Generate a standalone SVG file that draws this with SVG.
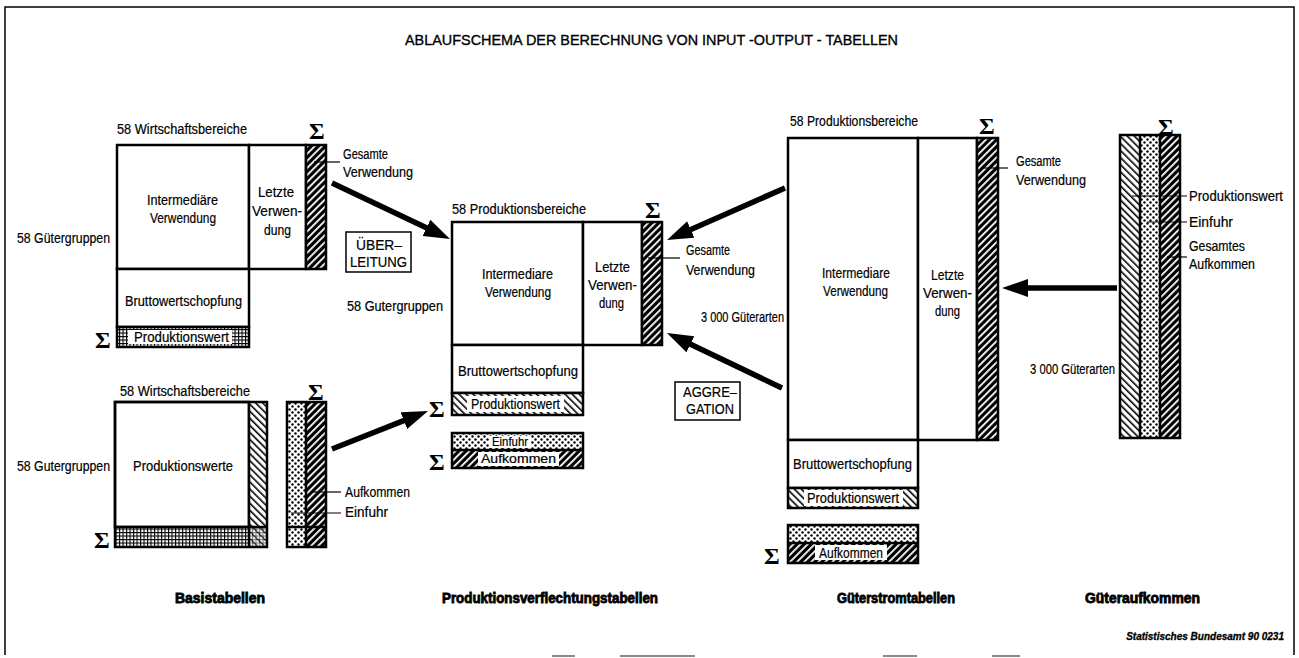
<svg xmlns="http://www.w3.org/2000/svg" width="1299" height="658" viewBox="0 0 1299 658">
<defs>
<style>
text{font-family:"Liberation Sans",Arial,sans-serif;font-size:14px;fill:#000;stroke:#000;stroke-width:0.2}
.s{font-family:"Liberation Serif",serif;font-size:24px;font-weight:bold;stroke:none}
.b{fill:#fff;stroke:#000;stroke-width:2.5}
.o{fill:none;stroke:#000;stroke-width:2.5}
.h{stroke:#000;stroke-width:2.5}
.l{stroke:#000;stroke-width:1.2}
.a{stroke:#000;stroke-width:5.5;marker-end:url(#ah)}
.w{fill:#fff}
.sm{font-size:12.5px}
.bl{font-weight:bold;font-size:14px;stroke-width:0.8}
.fr{stroke:#000;stroke-width:1.5;fill:none}
.bx{fill:#fff;stroke:#000;stroke-width:1.5}
.it{font-style:italic;font-weight:bold;font-size:10px;stroke-width:0.3}
.tt{font-size:15px;stroke-width:0.35}
</style>
<pattern id="pFwd" patternUnits="userSpaceOnUse" width="5" height="5" patternTransform="rotate(45)">
<rect width="5" height="5" fill="#000"/><rect width="1.8" height="5" fill="#fff"/>
</pattern>
<pattern id="pBack" patternUnits="userSpaceOnUse" width="5" height="5" patternTransform="rotate(-45)">
<rect width="5" height="5" fill="#fff"/><rect width="1.6" height="5" fill="#000"/>
</pattern>
<pattern id="pDot" patternUnits="userSpaceOnUse" width="6" height="6">
<rect width="6" height="6" fill="#fff"/><circle cx="1.5" cy="1.5" r="1.2"/><circle cx="4.5" cy="4.5" r="1.2"/>
</pattern>
<pattern id="pGrid" patternUnits="userSpaceOnUse" width="3.5" height="3.5">
<rect width="3.5" height="3.5" fill="#000"/><rect x="1.1" y="1.1" width="2.4" height="2.4" fill="#fff"/>
</pattern>
<marker id="ah" markerUnits="userSpaceOnUse" markerWidth="28" markerHeight="20" refX="8" refY="9" orient="auto">
<path d="M0,0 L26,9 L0,18 Z"/>
</marker>
</defs>
<rect width="1299" height="658" fill="#fff"/>
<g id="frame">
<path class="fr" d="M5,655 V7 H1294 V655"/>
<path d="M552,656 H575 M620,656 H695 M883,656 H917 M992,656 H1020" stroke="#888" stroke-width="2"/>
</g>
<g id="title">
<text class="tt" x="405" y="45" textLength="493" lengthAdjust="spacingAndGlyphs">ABLAUFSCHEMA DER BERECHNUNG VON INPUT -OUTPUT - TABELLEN</text>
</g>

<g id="basis-top">
<text x="117" y="134" textLength="130" lengthAdjust="spacingAndGlyphs">58 Wirtschaftsbereiche</text>
<text class="s" x="309" y="139">Σ</text>
<rect class="b" x="117" y="145" width="132" height="124"/>
<rect class="b" x="249" y="145" width="57" height="124"/>
<rect x="306" y="145" width="20" height="124" fill="url(#pFwd)" class="h"/>
<rect class="b" x="117" y="269" width="132" height="58"/>
<rect x="117" y="327" width="132" height="20" fill="url(#pGrid)" class="h"/>
<rect class="w" x="128" y="330" width="104" height="14"/>
<text x="147" y="205" textLength="71" lengthAdjust="spacingAndGlyphs">Intermediäre</text>
<text x="150" y="223" textLength="66" lengthAdjust="spacingAndGlyphs">Verwendung</text>
<text x="258" y="197" textLength="36" lengthAdjust="spacingAndGlyphs">Letzte</text>
<text x="252" y="216" textLength="50" lengthAdjust="spacingAndGlyphs">Verwen-</text>
<text x="264" y="235" textLength="27" lengthAdjust="spacingAndGlyphs">dung</text>
<text x="17" y="243" textLength="93" lengthAdjust="spacingAndGlyphs">58 Gütergruppen</text>
<text x="125" y="306" textLength="117" lengthAdjust="spacingAndGlyphs">Bruttowertschopfung</text>
<text x="134" y="342" textLength="95" lengthAdjust="spacingAndGlyphs">Produktionswert</text>
<text class="s" x="95" y="348">Σ</text>
<line class="l" x1="314" y1="162" x2="340" y2="162"/>
<text x="343" y="159" textLength="45" lengthAdjust="spacingAndGlyphs">Gesamte</text>
<text x="343" y="177" textLength="70" lengthAdjust="spacingAndGlyphs">Verwendung</text>
</g>

<g id="basis-bottom">
<text x="120" y="396" textLength="130" lengthAdjust="spacingAndGlyphs">58 Wirtschaftsbereiche</text>
<text class="s" x="308" y="400">Σ</text>
<rect class="b" x="115" y="402" width="134" height="125"/>
<rect x="249" y="402" width="18" height="125" fill="url(#pBack)"/>
<rect x="115" y="527" width="152" height="20" fill="url(#pGrid)"/>
<rect x="249" y="527" width="18" height="20" fill="url(#pBack)" opacity="0.5"/>
<rect class="o" x="115" y="402" width="152" height="145"/>
<line class="h" x1="249" y1="402" x2="249" y2="547"/>
<line class="h" x1="115" y1="527" x2="267" y2="527"/>
<rect x="287" y="402" width="19" height="145" fill="url(#pDot)"/>
<rect x="306" y="402" width="20" height="145" fill="url(#pFwd)"/>
<rect class="o" x="287" y="402" width="39" height="145"/>
<line class="h" x1="306" y1="402" x2="306" y2="547"/>
<line class="h" x1="287" y1="527" x2="326" y2="527"/>
<text x="17" y="471" textLength="93" lengthAdjust="spacingAndGlyphs">58 Gutergruppen</text>
<text x="133" y="471" textLength="100" lengthAdjust="spacingAndGlyphs">Produktionswerte</text>
<text class="s" x="94" y="548">Σ</text>
<line class="l" x1="312" y1="492" x2="341" y2="492"/>
<line class="l" x1="291" y1="513" x2="341" y2="513"/>
<text x="345" y="497" textLength="65" lengthAdjust="spacingAndGlyphs">Aufkommen</text>
<text x="345" y="517" textLength="43" lengthAdjust="spacingAndGlyphs">Einfuhr</text>
<text class="bl" x="175" y="603" textLength="90" lengthAdjust="spacingAndGlyphs">Basistabellen</text>
</g>

<g id="ueberleitung">
<rect class="bx" x="346" y="232" width="65" height="40"/>
<text x="356" y="250" textLength="46" lengthAdjust="spacingAndGlyphs">ÜBER–</text>
<text x="350" y="267" textLength="57" lengthAdjust="spacingAndGlyphs">LEITUNG</text>
</g>

<g id="produktionsverflechtung">
<text x="452" y="214" textLength="134" lengthAdjust="spacingAndGlyphs">58 Produktionsbereiche</text>
<text class="s" x="645" y="218">Σ</text>
<rect class="b" x="452" y="222" width="131" height="123"/>
<rect class="b" x="583" y="222" width="59" height="123"/>
<rect x="642" y="222" width="20" height="123" fill="url(#pFwd)" class="h"/>
<rect class="b" x="452" y="345" width="131" height="48"/>
<rect x="452" y="393" width="131" height="22" fill="url(#pBack)" class="h"/>
<rect class="w" x="467" y="396" width="97" height="16"/>
<text x="482" y="279" textLength="71" lengthAdjust="spacingAndGlyphs">Intermediare</text>
<text x="485" y="297" textLength="66" lengthAdjust="spacingAndGlyphs">Verwendung</text>
<text x="595" y="272" textLength="35" lengthAdjust="spacingAndGlyphs">Letzte</text>
<text x="588" y="290" textLength="49" lengthAdjust="spacingAndGlyphs">Verwen-</text>
<text x="599" y="308" textLength="25" lengthAdjust="spacingAndGlyphs">dung</text>
<text x="347" y="311" textLength="96" lengthAdjust="spacingAndGlyphs">58 Gutergruppen</text>
<text x="458" y="376" textLength="120" lengthAdjust="spacingAndGlyphs">Bruttowertschopfung</text>
<text x="471" y="409" textLength="89" lengthAdjust="spacingAndGlyphs">Produktionswert</text>
<text class="s" x="429" y="417">Σ</text>
<rect x="452" y="433" width="131" height="17" fill="url(#pDot)"/>
<rect x="452" y="450" width="131" height="18" fill="url(#pFwd)"/>
<rect class="o" x="452" y="433" width="131" height="35"/>
<line class="h" x1="452" y1="450" x2="583" y2="450"/>
<rect class="w" x="489" y="436" width="42" height="12"/>
<rect class="w" x="478" y="452" width="81" height="14"/>
<text class="sm" x="492" y="446" textLength="36" lengthAdjust="spacingAndGlyphs">Einfuhr</text>
<text class="sm" x="481" y="463" textLength="75" lengthAdjust="spacingAndGlyphs">Aufkommen</text>
<text class="s" x="429" y="470">Σ</text>
<line class="l" x1="648" y1="258" x2="680" y2="258"/>
<text x="686" y="255" textLength="44" lengthAdjust="spacingAndGlyphs">Gesamte</text>
<text x="686" y="275" textLength="69" lengthAdjust="spacingAndGlyphs">Verwendung</text>
<text class="bl" x="442" y="603" textLength="216" lengthAdjust="spacingAndGlyphs">Produktionsverflechtungstabellen</text>
</g>

<g id="aggregation">
<rect class="bx" x="675" y="382" width="65" height="38"/>
<text x="683" y="397" textLength="54" lengthAdjust="spacingAndGlyphs">AGGRE–</text>
<text x="686" y="414" textLength="48" lengthAdjust="spacingAndGlyphs">GATION</text>
</g>

<g id="gueterstrom">
<text x="790" y="126" textLength="128" lengthAdjust="spacingAndGlyphs">58 Produktionsbereiche</text>
<text class="s" x="979" y="134">Σ</text>
<rect class="b" x="788" y="138" width="130" height="302"/>
<rect class="b" x="918" y="138" width="59" height="302"/>
<rect x="977" y="138" width="21" height="302" fill="url(#pFwd)" class="h"/>
<rect class="b" x="788" y="440" width="130" height="48"/>
<rect x="788" y="488" width="130" height="20" fill="url(#pBack)" class="h"/>
<rect class="w" x="804" y="490" width="99" height="16"/>
<text x="822" y="278" textLength="68" lengthAdjust="spacingAndGlyphs">Intermediare</text>
<text x="823" y="296" textLength="65" lengthAdjust="spacingAndGlyphs">Verwendung</text>
<text x="931" y="280" textLength="33" lengthAdjust="spacingAndGlyphs">Letzte</text>
<text x="923" y="298" textLength="49" lengthAdjust="spacingAndGlyphs">Verwen-</text>
<text x="935" y="316" textLength="25" lengthAdjust="spacingAndGlyphs">dung</text>
<text x="701" y="322" textLength="83" lengthAdjust="spacingAndGlyphs">3 000 Güterarten</text>
<text x="793" y="469" textLength="119" lengthAdjust="spacingAndGlyphs">Bruttowertschopfung</text>
<text x="807" y="503" textLength="92" lengthAdjust="spacingAndGlyphs">Produktionswert</text>
<rect x="788" y="525" width="130" height="18" fill="url(#pDot)"/>
<rect x="788" y="543" width="130" height="20" fill="url(#pFwd)"/>
<rect class="o" x="788" y="525" width="130" height="38"/>
<line class="h" x1="788" y1="543" x2="918" y2="543"/>
<rect class="w" x="815" y="545" width="72" height="15"/>
<text x="819" y="558" textLength="64" lengthAdjust="spacingAndGlyphs">Aufkommen</text>
<text class="s" x="764" y="564">Σ</text>
<line class="l" x1="983" y1="168" x2="1008" y2="168"/>
<text x="1016" y="166" textLength="45" lengthAdjust="spacingAndGlyphs">Gesamte</text>
<text x="1016" y="185" textLength="70" lengthAdjust="spacingAndGlyphs">Verwendung</text>
<text class="bl" x="837" y="603" textLength="118" lengthAdjust="spacingAndGlyphs">Güterstromtabellen</text>
</g>

<g id="gueteraufkommen">
<text class="s" x="1158" y="135">Σ</text>
<rect x="1120" y="135" width="20" height="303" fill="url(#pBack)"/>
<rect x="1140" y="135" width="20" height="303" fill="url(#pDot)"/>
<rect x="1160" y="135" width="20" height="303" fill="url(#pFwd)"/>
<rect class="o" x="1120" y="135" width="60" height="303"/>
<line class="h" x1="1140" y1="135" x2="1140" y2="438"/>
<line class="h" x1="1160" y1="135" x2="1160" y2="438"/>
<line class="l" x1="1132" y1="196" x2="1187" y2="196"/>
<line class="l" x1="1147" y1="222" x2="1187" y2="222"/>
<line class="l" x1="1167" y1="257" x2="1187" y2="257"/>
<text x="1189" y="201" textLength="94" lengthAdjust="spacingAndGlyphs">Produktionswert</text>
<text x="1189" y="227" textLength="44" lengthAdjust="spacingAndGlyphs">Einfuhr</text>
<text x="1189" y="251" textLength="56" lengthAdjust="spacingAndGlyphs">Gesamtes</text>
<text x="1189" y="269" textLength="66" lengthAdjust="spacingAndGlyphs">Aufkommen</text>
<text x="1030" y="374" textLength="85" lengthAdjust="spacingAndGlyphs">3 000 Güterarten</text>
<text class="bl" x="1085" y="603" textLength="115" lengthAdjust="spacingAndGlyphs">Güteraufkommen</text>
</g>

<g id="connectors">
<line class="a" x1="332" y1="183" x2="433.7" y2="231.3"/>
<line class="a" x1="785" y1="188" x2="683.5" y2="232.7"/>
<line class="a" x1="782" y1="388" x2="683.2" y2="340.8"/>
<line class="a" x1="332" y1="449" x2="411.3" y2="417.6"/>
<line class="a" x1="1117" y1="288" x2="1020" y2="288"/>
</g>

<g id="source">
<text class="it" x="1284" y="640" text-anchor="end">Statistisches Bundesamt 90 0231</text>
</g>
</svg>
